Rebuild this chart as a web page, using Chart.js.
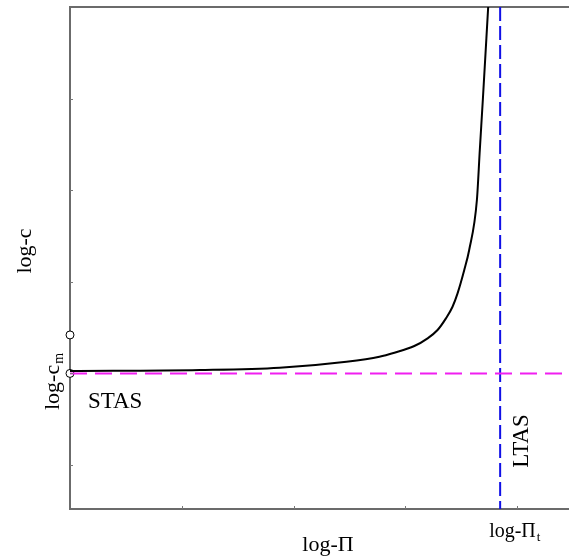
<!DOCTYPE html>
<html>
<head>
<meta charset="utf-8">
<script src="https://cdn.jsdelivr.net/npm/chart.js@4/dist/chart.umd.min.js"></script>
<style>
  html, body { margin: 0; padding: 0; background: #fff; overflow: hidden; }
  #wrap { width: 569px; height: 557px; overflow: hidden; }
</style>
</head>
<body>
<div id="wrap"><canvas id="grafica" width="573" height="557"></canvas></div>
<script>
// curva log-c vs log-Pi
var logPi = [0, 1.161, 1.875, 2.473, 2.768, 2.902, 3.080, 3.199, 3.288, 3.363, 3.422, 3.467, 3.527, 3.571, 3.640, 3.666, 3.693, 3.741];
var logC  = [1.026, 1.037, 1.062, 1.128, 1.182, 1.226, 1.299, 1.383, 1.474, 1.601, 1.728, 1.874, 2.129, 2.347, 2.893, 3.439, 3.985, 5.0];

// asintotas
var logCm = 1.0;      // STAS
var logPiT = 3.848;   // LTAS
// puntos marcados sobre el eje
var marcaC = [1.42, 1.0];

var xMin = 0, xMax = 4.455, yMin = -0.48, yMax = 5;

var curva = logPi.map(function (x, i) { return { x: x, y: logC[i] }; });

var serif = '"Liberation Serif", "Times New Roman", serif';

// textos y marcas de los ejes
var etiquetas = {
  id: 'etiquetas',
  afterDraw: function (chart) {
    var ctx = chart.ctx, a = chart.chartArea;
    var sx = chart.scales.x, sy = chart.scales.y;
    ctx.save();
    // marcas cortas hacia adentro
    ctx.strokeStyle = '#777';
    ctx.lineWidth = 1;
    [1, 2, 3, 4].forEach(function (v) {
      var px = Math.round(sx.getPixelForValue(v)) + 0.5;
      ctx.beginPath(); ctx.moveTo(px, a.bottom); ctx.lineTo(px, a.bottom - 3); ctx.stroke();
    });
    [0, 1, 2, 3, 4].forEach(function (v) {
      var py = Math.round(sy.getPixelForValue(v)) + 0.5;
      ctx.beginPath(); ctx.moveTo(a.left, py); ctx.lineTo(a.left + 3, py); ctx.stroke();
    });

    ctx.fillStyle = '#000';
    ctx.textBaseline = 'alphabetic';

    // eje x
    ctx.font = '22px ' + serif;
    ctx.textAlign = 'center';
    ctx.fillText('log-\u03A0', 328, 551);

    ctx.font = '20px ' + serif;
    ctx.textAlign = 'left';
    var xt = sx.getPixelForValue(logPiT) - 11;
    ctx.fillText('log-\u03A0', xt, 537);
    var wt = ctx.measureText('log-\u03A0').width;
    ctx.font = '13px ' + serif;
    ctx.fillText('t', xt + wt + 1, 541);

    // eje y
    ctx.save();
    ctx.translate(31, 251);
    ctx.rotate(-Math.PI / 2);
    ctx.font = '22px ' + serif;
    ctx.textAlign = 'center';
    ctx.fillText('log-c', 0, 0);
    ctx.restore();

    ctx.save();
    ctx.translate(59, 410);
    ctx.rotate(-Math.PI / 2);
    ctx.font = '22px ' + serif;
    ctx.textAlign = 'left';
    ctx.fillText('log-c', 0, 0);
    var wc = ctx.measureText('log-c').width;
    ctx.font = '14px ' + serif;
    ctx.fillText('m', wc + 1, 4);
    ctx.restore();

    // asintotas
    ctx.font = '23px ' + serif;
    ctx.textAlign = 'left';
    ctx.fillText('STAS', 88, sy.getPixelForValue(logCm) + 35);

    ctx.save();
    ctx.translate(sx.getPixelForValue(logPiT) + 28, 441);
    ctx.rotate(-Math.PI / 2);
    ctx.textAlign = 'center';
    ctx.fillText('LTAS', 0, 0);
    ctx.restore();

    ctx.restore();
  }
};

var grafica = new Chart(document.getElementById('grafica'), {
  type: 'scatter',
  data: {
    datasets: [
      {
        label: 'STAS',
        data: [{ x: xMin, y: logCm }, { x: xMax, y: logCm }],
        showLine: true,
        borderColor: '#f01ff0',
        borderWidth: 2,
        borderDash: [17, 8],
        pointRadius: 0
      },
      {
        label: 'LTAS',
        data: [{ x: logPiT, y: yMax }, { x: logPiT, y: yMin }],
        showLine: true,
        borderColor: '#1010e6',
        borderWidth: 2,
        borderDash: [14, 5],
        pointRadius: 0
      },
      {
        label: 'curva',
        data: curva,
        showLine: true,
        borderColor: '#000',
        borderWidth: 2,
        cubicInterpolationMode: 'monotone',
        pointRadius: 0
      },
      {
        label: 'marcas',
        data: marcaC.map(function (c) { return { x: 0, y: c }; }),
        pointRadius: 4,
        pointBackgroundColor: '#fff',
        pointBorderColor: '#000',
        pointBorderWidth: 1,
        clip: false
      }
    ]
  },
  options: {
    responsive: false,
    animation: false,
    layout: { padding: { left: 62, top: -1, right: 0, bottom: 40 } },
    plugins: { legend: { display: false }, tooltip: { enabled: false } },
    scales: {
      x: {
        type: 'linear', min: xMin, max: xMax,
        ticks: { display: false, stepSize: 1 },
        grid: { display: false },
        border: { display: true, color: '#6b6b6b', width: 2 }
      },
      x2: {
        type: 'linear', position: 'top', min: xMin, max: xMax,
        ticks: { display: false },
        grid: { display: false },
        border: { display: true, color: '#6b6b6b', width: 2 }
      },
      y: {
        type: 'linear', min: yMin, max: yMax,
        ticks: { display: false, stepSize: 1 },
        grid: { display: false },
        border: { display: true, color: '#6b6b6b', width: 2 }
      }
    }
  },
  plugins: [etiquetas]
});
</script>
</body>
</html>
